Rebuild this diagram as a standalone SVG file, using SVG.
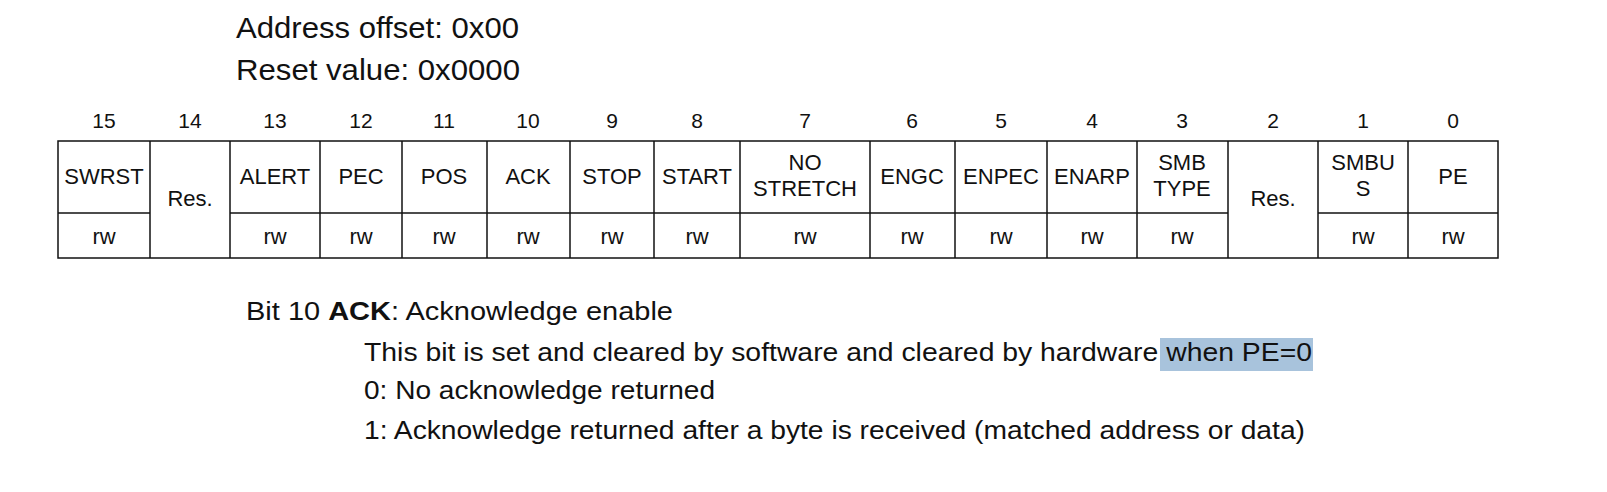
<svg xmlns="http://www.w3.org/2000/svg" width="1607" height="492" viewBox="0 0 1607 492">
<style>
text{font-family:"Liberation Sans",Arial,sans-serif;fill:#111}
.b{font-size:21px;text-anchor:middle}
.c{font-size:22px;text-anchor:middle}
.h{font-size:29px}
.d{font-size:25px}
line{stroke:#111;stroke-width:1.5}
</style>
<rect width="1607" height="492" fill="#fff"/>
<text class="h" x="236" y="38" textLength="283" lengthAdjust="spacingAndGlyphs">Address offset: 0x00</text>
<text class="h" x="236" y="80" textLength="284" lengthAdjust="spacingAndGlyphs">Reset value: 0x0000</text>
<g id="bits">
<text class="b" x="104" y="128">15</text><text class="b" x="190" y="128">14</text><text class="b" x="275" y="128">13</text><text class="b" x="361" y="128">12</text><text class="b" x="444" y="128">11</text><text class="b" x="528" y="128">10</text><text class="b" x="612" y="128">9</text><text class="b" x="697" y="128">8</text><text class="b" x="805" y="128">7</text><text class="b" x="912" y="128">6</text><text class="b" x="1001" y="128">5</text><text class="b" x="1092" y="128">4</text><text class="b" x="1182" y="128">3</text><text class="b" x="1273" y="128">2</text><text class="b" x="1363" y="128">1</text><text class="b" x="1453" y="128">0</text>
</g>
<g id="table">
<rect x="58" y="141" width="1440" height="117" fill="none" stroke="#111" stroke-width="1.5"/>
<line x1="58" y1="213" x2="150" y2="213"/><line x1="230" y1="213" x2="1228" y2="213"/><line x1="1318" y1="213" x2="1498" y2="213"/>
<line x1="150" y1="141" x2="150" y2="258"/><line x1="230" y1="141" x2="230" y2="258"/><line x1="320" y1="141" x2="320" y2="258"/><line x1="402" y1="141" x2="402" y2="258"/><line x1="487" y1="141" x2="487" y2="258"/><line x1="570" y1="141" x2="570" y2="258"/><line x1="654" y1="141" x2="654" y2="258"/><line x1="740" y1="141" x2="740" y2="258"/><line x1="870" y1="141" x2="870" y2="258"/><line x1="955" y1="141" x2="955" y2="258"/><line x1="1047" y1="141" x2="1047" y2="258"/><line x1="1137" y1="141" x2="1137" y2="258"/><line x1="1228" y1="141" x2="1228" y2="258"/><line x1="1318" y1="141" x2="1318" y2="258"/><line x1="1408" y1="141" x2="1408" y2="258"/>
<text class="c" x="104" y="184">SWRST</text><text class="c" x="190" y="206">Res.</text><text class="c" x="275" y="184">ALERT</text><text class="c" x="361" y="184">PEC</text><text class="c" x="444" y="184">POS</text><text class="c" x="528" y="184">ACK</text><text class="c" x="612" y="184">STOP</text><text class="c" x="697" y="184">START</text>
<text class="c" x="805" y="170">NO</text><text class="c" x="805" y="196">STRETCH</text>
<text class="c" x="912" y="184">ENGC</text><text class="c" x="1001" y="184">ENPEC</text><text class="c" x="1092" y="184">ENARP</text>
<text class="c" x="1182" y="170">SMB</text><text class="c" x="1182" y="196">TYPE</text>
<text class="c" x="1273" y="206">Res.</text>
<text class="c" x="1363" y="170">SMBU</text><text class="c" x="1363" y="196">S</text>
<text class="c" x="1453" y="184">PE</text>
<text class="c" x="104" y="244">rw</text><text class="c" x="275" y="244">rw</text><text class="c" x="361" y="244">rw</text><text class="c" x="444" y="244">rw</text><text class="c" x="528" y="244">rw</text><text class="c" x="612" y="244">rw</text><text class="c" x="697" y="244">rw</text><text class="c" x="805" y="244">rw</text><text class="c" x="912" y="244">rw</text><text class="c" x="1001" y="244">rw</text><text class="c" x="1092" y="244">rw</text><text class="c" x="1182" y="244">rw</text><text class="c" x="1363" y="244">rw</text><text class="c" x="1453" y="244">rw</text>
</g>
<rect x="1160" y="338" width="153" height="33" fill="#a8c3dc"/>
<text class="d" x="246" y="320" textLength="427" lengthAdjust="spacingAndGlyphs">Bit 10  <tspan font-weight="bold">ACK</tspan>: Acknowledge enable</text>
<text class="d" x="364" y="361" textLength="948" lengthAdjust="spacingAndGlyphs">This bit is set and cleared by software and cleared by hardware when PE=0</text>
<text class="d" x="364" y="399" textLength="351" lengthAdjust="spacingAndGlyphs">0: No acknowledge returned</text>
<text class="d" x="364" y="439" textLength="941" lengthAdjust="spacingAndGlyphs">1: Acknowledge returned after a byte is received (matched address or data)</text>
</svg>
